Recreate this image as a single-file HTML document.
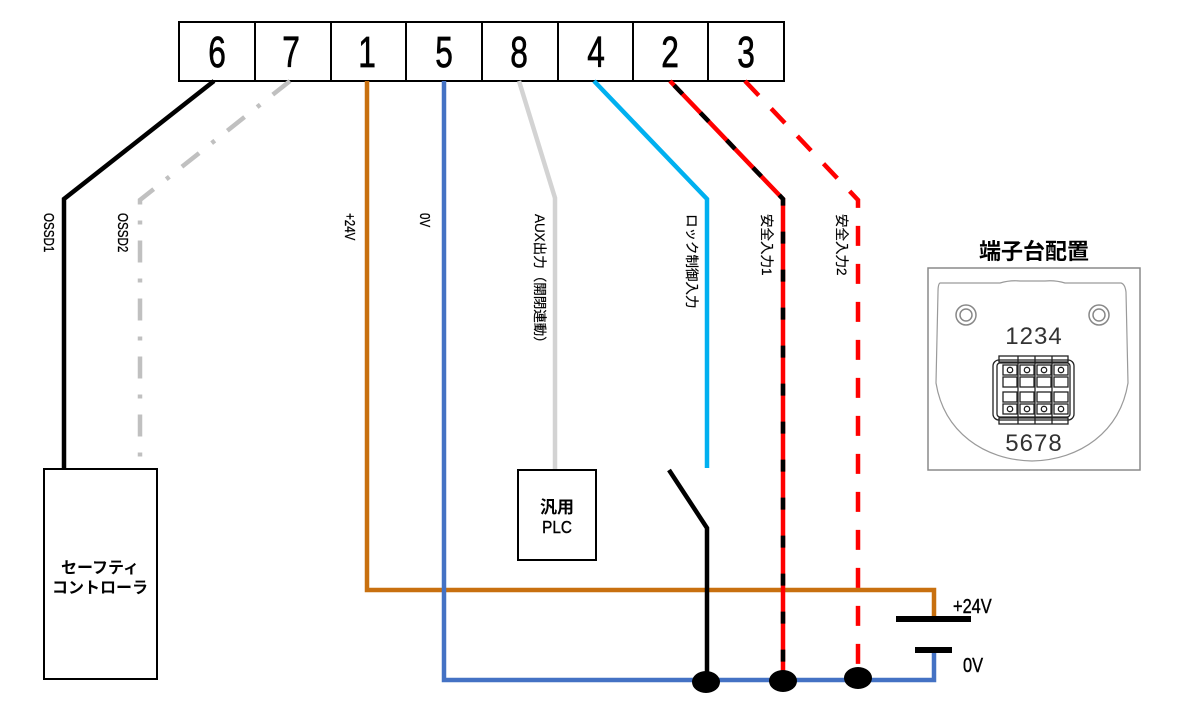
<!DOCTYPE html>
<html><head><meta charset="utf-8"><style>
html,body{margin:0;padding:0;background:#fff;}
svg{display:block;}
text{font-family:"Liberation Sans","Noto Sans CJK JP",sans-serif;}
</style></head><body>
<svg width="1184" height="710" viewBox="0 0 1184 710" xmlns="http://www.w3.org/2000/svg">
<rect width="1184" height="710" fill="#fff"/>
<!-- terminal block -->
<g fill="#fff" stroke="#000" stroke-width="2">
<rect x="179" y="22" width="605" height="59"/>
<line x1="255" y1="22" x2="255" y2="81"/><line x1="331" y1="22" x2="331" y2="81"/>
<line x1="406" y1="22" x2="406" y2="81"/><line x1="482" y1="22" x2="482" y2="81"/>
<line x1="558" y1="22" x2="558" y2="81"/><line x1="633" y1="22" x2="633" y2="81"/>
<line x1="708" y1="22" x2="708" y2="81"/>
</g>
<g font-size="44" text-anchor="middle" fill="#000" stroke="#000" stroke-width="0.7">
<text transform="translate(217,67) scale(0.72,1)">6</text>
<text transform="translate(291,67) scale(0.72,1)">7</text>
<text transform="translate(367,67) scale(0.72,1)">1</text>
<text transform="translate(444,67) scale(0.72,1)">5</text>
<text transform="translate(519,67) scale(0.72,1)">8</text>
<text transform="translate(596,67) scale(0.72,1)">4</text>
<text transform="translate(670,67) scale(0.72,1)">2</text>
<text transform="translate(746,67) scale(0.72,1)">3</text>
</g>
<!-- wires -->
<g fill="none" stroke-width="4.5" stroke-linejoin="miter">
<path d="M367,81 V590 H934 V619" stroke="#c8700f"/>
<path d="M444,81 V680 H934 V650" stroke="#4472c4"/>
<path d="M214,81 L64,199 V469" stroke="#000"/>
<path d="M290,81 L140,200 V462" stroke="#c0c0c0" stroke-dasharray="22 16 4 16"/>
<path d="M519,81 L555,198 V469" stroke="#d3d3d3"/>
<path d="M594,81 L707,199 V468" stroke="#00b0f0"/>
<path d="M670,81 L783,199 V680" stroke="#ff0000"/>
<path d="M670,81 L783,199 V680" stroke="#000" stroke-dasharray="12 26" stroke-dashoffset="-6"/>
<path d="M745,81 L858,200 V678" stroke="#ff0000" stroke-dasharray="20 18"/>
<path d="M669,470 L707,528 V682" stroke="#000"/>
</g>
<!-- battery -->
<line x1="896" y1="619" x2="971" y2="619" stroke="#000" stroke-width="6"/>
<line x1="915" y1="650" x2="952" y2="650" stroke="#000" stroke-width="6"/>
<text transform="translate(953,613) scale(0.82,1)" font-size="20" fill="#000" stroke="#000" stroke-width="0.4">+24V</text>
<text transform="translate(963,672) scale(0.82,1)" font-size="20" fill="#000" stroke="#000" stroke-width="0.4">0V</text>
<!-- dots -->
<ellipse cx="706" cy="682" rx="14" ry="11" fill="#000"/>
<ellipse cx="783" cy="681" rx="14" ry="11" fill="#000"/>
<ellipse cx="858" cy="678" rx="14" ry="11" fill="#000"/>
<!-- boxes -->
<rect x="44" y="469" width="113" height="210" fill="#fff" stroke="#000" stroke-width="2"/>
<text x="100" y="573" font-size="16" font-weight="bold" text-anchor="middle">セーフティ</text>
<text x="100" y="593" font-size="16" font-weight="bold" text-anchor="middle">コントローラ</text>
<rect x="518" y="470" width="78" height="90" fill="#fff" stroke="#000" stroke-width="2"/>
<text x="557" y="513" font-size="17" font-weight="bold" text-anchor="middle">汎用</text>
<text transform="translate(557,533) scale(0.85,1)" font-size="18" text-anchor="middle" stroke="#000" stroke-width="0.4">PLC</text>
<!-- vertical labels -->
<g font-size="14.5" fill="#000" stroke="#000" stroke-width="0.3">
<text transform="translate(44,213) rotate(90) scale(0.8,1)">OSSD1</text>
<text transform="translate(118,213) rotate(90) scale(0.8,1)">OSSD2</text>
<text transform="translate(345,213) rotate(90) scale(0.8,1)">+24V</text>
<text transform="translate(420,213) rotate(90) scale(0.8,1)">0V</text>
</g>
<g font-size="13.5" fill="#000" stroke="#000" stroke-width="0.2">
<text transform="translate(535,214) rotate(90)">AUX出力（開閉連動）</text>
<text transform="translate(687,214) rotate(90)">ロック制御入力</text>
<text transform="translate(762,214) rotate(90)">安全入力1</text>
<text transform="translate(837,214) rotate(90)">安全入力2</text>
</g>
<!-- pinout figure -->
<text x="1034" y="259" font-size="22" font-weight="bold" text-anchor="middle">端子台配置</text>
<rect x="928" y="268" width="212" height="202" fill="#fff" stroke="#8a8a8a" stroke-width="1.5"/>
<path d="M940,283 L1000,283 Q1010,280 1020,281 L1045,281 Q1055,280 1065,283 L1121,283 Q1125,284 1126,292 L1128,383 C1120,432 1080,460 1032,461 C984,460 944,432 936,383 L938,292 Q938,284 940,283 Z" fill="none" stroke="#9a9a9a" stroke-width="1.2"/>
<circle cx="966" cy="315" r="10" fill="none" stroke="#888" stroke-width="1.5"/>
<circle cx="966" cy="315" r="6" fill="none" stroke="#888" stroke-width="1.5"/>
<circle cx="1099" cy="315" r="10" fill="none" stroke="#888" stroke-width="1.5"/>
<circle cx="1099" cy="315" r="6" fill="none" stroke="#888" stroke-width="1.5"/>
<text x="1034" y="344" font-size="24" text-anchor="middle" fill="#333" letter-spacing="1">1234</text>
<text x="1034" y="451" font-size="24" text-anchor="middle" fill="#333" letter-spacing="1">5678</text>
<g fill="none" stroke="#222" stroke-width="1.3">
<rect x="993" y="360" width="81" height="60" rx="6"/>
<rect x="997" y="363" width="73" height="54" rx="3"/>
<rect x="999" y="356" width="69" height="6"/>
<rect x="999" y="418" width="69" height="6"/>
<line x1="1018" y1="356" x2="1018" y2="424"/>
<line x1="1035" y1="356" x2="1035" y2="424"/>
<line x1="1052" y1="356" x2="1052" y2="424"/>
<rect x="1003" y="365" width="14" height="10"/><rect x="1020" y="365" width="14" height="10"/>
<rect x="1037" y="365" width="14" height="10"/><rect x="1054" y="365" width="14" height="10"/>
<rect x="1003" y="377" width="14" height="10"/><rect x="1020" y="377" width="14" height="10"/>
<rect x="1037" y="377" width="14" height="10"/><rect x="1054" y="377" width="14" height="10"/>
<rect x="1003" y="392" width="14" height="10"/><rect x="1020" y="392" width="14" height="10"/>
<rect x="1037" y="392" width="14" height="10"/><rect x="1054" y="392" width="14" height="10"/>
<rect x="1003" y="404" width="14" height="10"/><rect x="1020" y="404" width="14" height="10"/>
<rect x="1037" y="404" width="14" height="10"/><rect x="1054" y="404" width="14" height="10"/>
<circle cx="1010" cy="370" r="2.7"/><circle cx="1027" cy="370" r="2.7"/><circle cx="1044" cy="370" r="2.7"/><circle cx="1061" cy="370" r="2.7"/>
<circle cx="1010" cy="409" r="2.7"/><circle cx="1027" cy="409" r="2.7"/><circle cx="1044" cy="409" r="2.7"/><circle cx="1061" cy="409" r="2.7"/>
</g>
</svg>
</body></html>
